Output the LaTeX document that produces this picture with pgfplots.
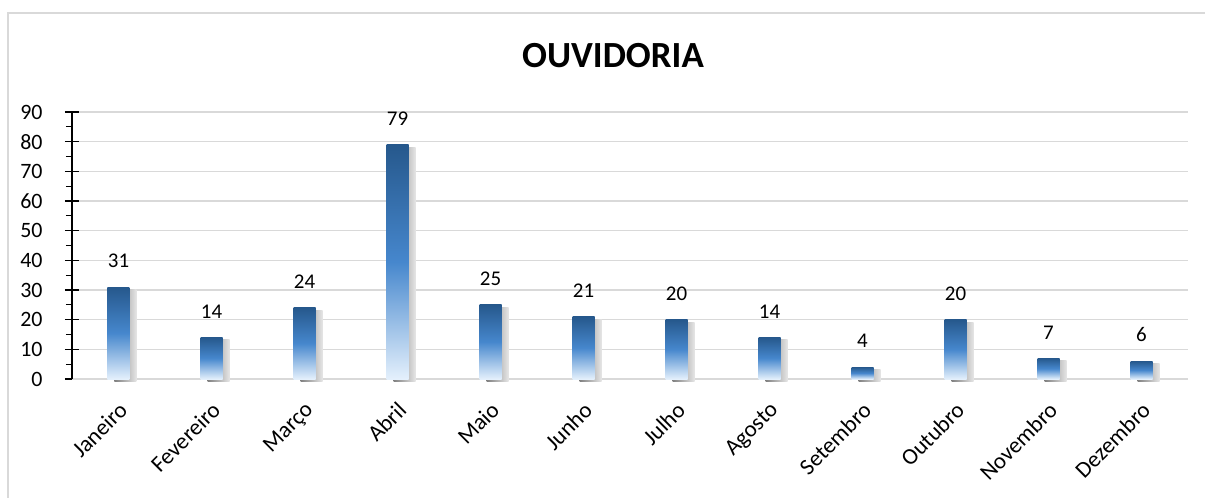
\documentclass[border=0pt]{standalone}
\usepackage{pgfplots}
\pgfplotsset{compat=1.18}
\usepackage{fontspec}
\setmainfont{Carlito}

\definecolor{bartop}{RGB}{38,88,140}
\definecolor{barmid}{RGB}{70,135,205}
\definecolor{barbot}{RGB}{228,240,252}
\definecolor{gridc}{RGB}{217,217,217}

\pgfplotsset{
  shadowbar/.style={draw=none, left color=black!50, right color=black!10,
    bar shift=7bp, yshift=-2.5bp},
  mainbar/.style={draw=none, top color=bartop, bottom color=barbot, middle color=barmid,
    bar shift=0bp, nodes near coords,
    every node near coord/.append style={font=\fontsize{21}{25}\selectfont, black,
      anchor=south, inner sep=0pt, yshift=19bp}},
}

\begin{document}
\begin{tikzpicture}
\useasboundingbox (-72bp,-119bp) rectangle (1133bp,379bp);
\draw[gridc, line width=1.5bp] (-64bp,-119bp) -- (-64bp,366bp) -- (1133bp,366bp);
\node[font=\bfseries\fontsize{37}{42}\selectfont] at (541bp,323bp) {OUVIDORIA};
\begin{axis}[
    at={(0,0)}, anchor=south west,
    scale only axis,
    width=1116bp, height=267bp,
    xmin=-0.5, xmax=11.5,
    ymin=0, ymax=90,
    ytick distance=10,
    minor y tick num=1,
    xtick={0,...,11},
    xticklabels={Janeiro,Fevereiro,Março,Abril,Maio,Junho,Julho,Agosto,Setembro,Outubro,Novembro,Dezembro},
    x tick label style={font=\fontsize{23}{27}\selectfont, xshift=-1bp, yshift=-6bp,
      rotate=45, anchor=north east, inner sep=1bp},
    x tick style={draw=none},
    axis x line*=bottom,
    axis y line*=left,
    x axis line style={gridc, line width=1.5bp},
    y axis line style={black, line width=1.2bp},
    tick align=center,
    major tick length=14bp,
    minor tick length=6bp,
    y tick style={black, line width=1.2bp},
    minor y tick style={xshift=-3bp},
    ymajorgrids,
    major grid style={gridc, line width=1.3bp},
    yticklabel style={font=\fontsize{22}{26}\selectfont, xshift=-19bp},
    /pgf/number format/assume math mode=true,
    ybar,
    bar width=22bp,
    clip=false,
]
% shadows, one bar per plot so that each gets its own shading
\addplot[shadowbar] coordinates {(0,31)};
\addplot[shadowbar] coordinates {(1,14)};
\addplot[shadowbar] coordinates {(2,24)};
\addplot[shadowbar] coordinates {(3,79)};
\addplot[shadowbar] coordinates {(4,25)};
\addplot[shadowbar] coordinates {(5,21)};
\addplot[shadowbar] coordinates {(6,20)};
\addplot[shadowbar] coordinates {(7,14)};
\addplot[shadowbar] coordinates {(8,4)};
\addplot[shadowbar] coordinates {(9,20)};
\addplot[shadowbar] coordinates {(10,7)};
\addplot[shadowbar] coordinates {(11,6)};
% bars
\addplot[mainbar] coordinates {(0,31)};
\addplot[mainbar] coordinates {(1,14)};
\addplot[mainbar] coordinates {(2,24)};
\addplot[mainbar] coordinates {(3,79)};
\addplot[mainbar] coordinates {(4,25)};
\addplot[mainbar] coordinates {(5,21)};
\addplot[mainbar] coordinates {(6,20)};
\addplot[mainbar] coordinates {(7,14)};
\addplot[mainbar] coordinates {(8,4)};
\addplot[mainbar] coordinates {(9,20)};
\addplot[mainbar] coordinates {(10,7)};
\addplot[mainbar] coordinates {(11,6)};
\end{axis}
\end{tikzpicture}
\end{document}
